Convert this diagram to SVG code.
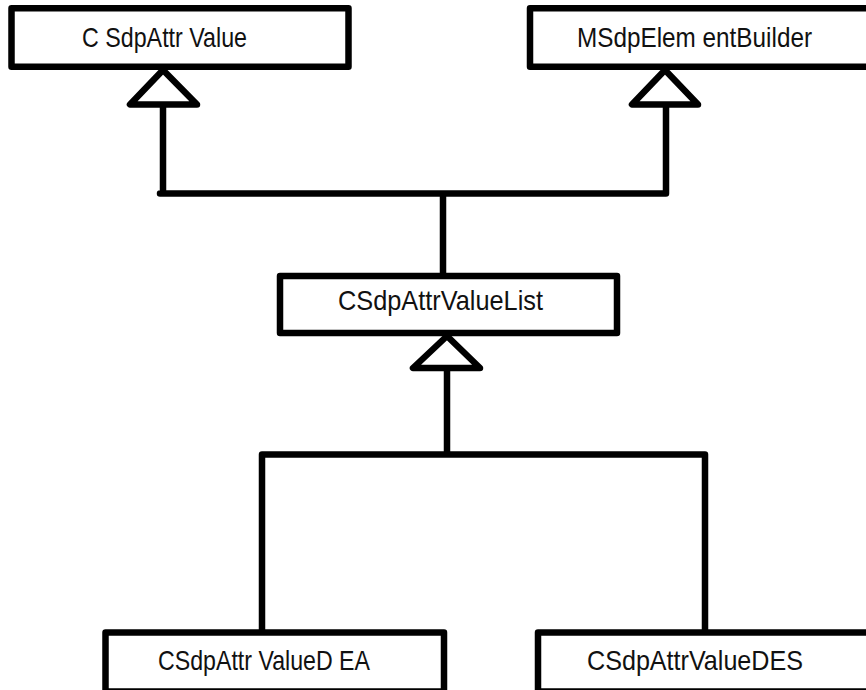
<svg xmlns="http://www.w3.org/2000/svg" width="866" height="690" viewBox="0 0 866 690">
<style>
.box{fill:#fff;stroke:#000;stroke-width:6.5;stroke-linejoin:round}
.lbl{font-family:"Liberation Sans",Arial,sans-serif;font-size:28.5px;fill:#111}
.ln{fill:none;stroke:#000;stroke-width:6.5;stroke-linecap:round;stroke-linejoin:round}
.tri{fill:#fff;stroke:#000;stroke-width:6.5;stroke-linejoin:round}
</style>
<rect width="866" height="690" fill="#fff"/>
<g id="connectors">
<path class="ln" d="M163 104.5 V193.5 M666 104.5 V193.5 M160 193.5 H666 M443 193.5 V276"/>
<path class="ln" d="M447 368 V454.5 M262 632.5 V454.5 H705 V637"/>
<polygon class="tri" points="163,70 130,104.5 197,104.5"/>
<polygon class="tri" points="665,70 632,104.5 698,104.5"/>
<polygon class="tri" points="447,336 413,368 480,368"/>
</g>
<g id="CSdpAttrValue">
<rect class="box" x="11.5" y="8.3" width="337" height="58.4"/>
<text class="lbl" x="82" y="47" textLength="165" lengthAdjust="spacingAndGlyphs">C SdpAttr Value</text>
</g>
<g id="MSdpElementBuilder">
<rect class="box" x="530" y="8.3" width="360" height="58.4"/>
<text class="lbl" x="577" y="47" textLength="235" lengthAdjust="spacingAndGlyphs">MSdpElem entBuilder</text>
</g>
<g id="CSdpAttrValueList">
<rect class="box" x="280" y="276" width="337" height="57"/>
<text class="lbl" x="338" y="310" textLength="205" lengthAdjust="spacingAndGlyphs">CSdpAttrValueList</text>
</g>
<g id="CSdpAttrValueDEA">
<rect class="box" x="105.5" y="632.5" width="338.5" height="59"/>
<text class="lbl" x="158" y="670" textLength="212" lengthAdjust="spacingAndGlyphs">CSdpAttr ValueD EA</text>
</g>
<g id="CSdpAttrValueDES">
<rect class="box" x="538" y="632.5" width="352" height="59"/>
<text class="lbl" x="587" y="670" textLength="216" lengthAdjust="spacingAndGlyphs">CSdpAttrValueDES</text>
</g>
</svg>
